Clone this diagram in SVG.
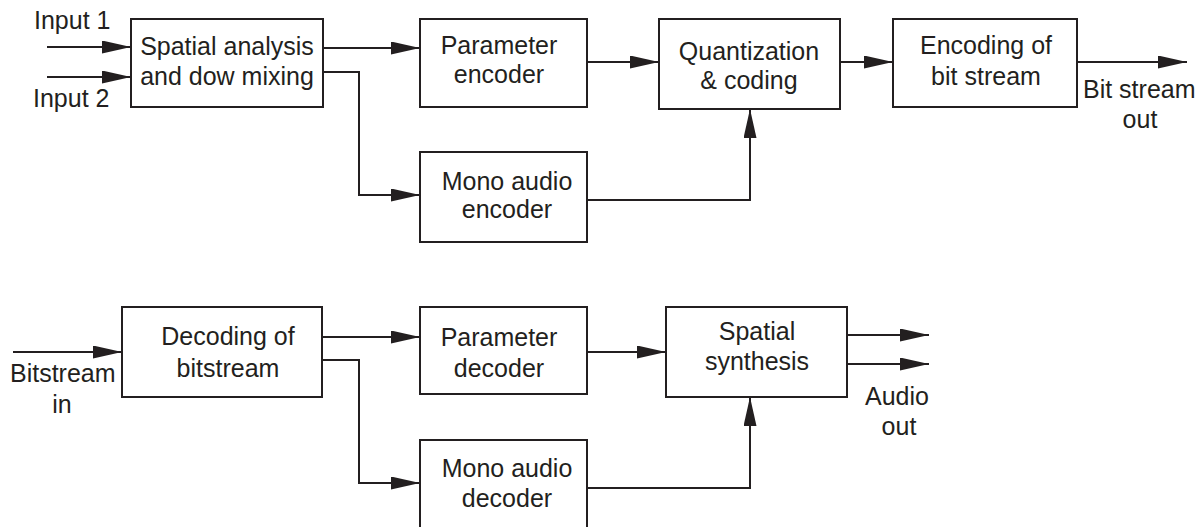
<svg xmlns="http://www.w3.org/2000/svg" width="1199" height="527" viewBox="0 0 1199 527">
<style>
.box{fill:#fff;stroke:#231f20;stroke-width:2}
.ln{fill:none;stroke:#231f20;stroke-width:2;marker-end:url(#ah)}
text{font-family:"Liberation Sans",Arial,sans-serif;font-size:25px;fill:#231f20}
.c{text-anchor:middle}
</style>
<defs>
<marker id="ah" markerUnits="userSpaceOnUse" markerWidth="30" markerHeight="14" refX="29" refY="6.5" orient="auto">
<path d="M0,0 L29,6.5 L0,13 z" fill="#231f20"/>
</marker>
</defs>
<rect width="1199" height="527" fill="#fff"/>
<g id="connectors">
<path class="ln" d="M47,47 H131"/>
<path class="ln" d="M47,77 H131"/>
<path class="ln" d="M323,48 H420"/>
<path class="ln" d="M323,72 H359 V195 H420"/>
<path class="ln" d="M587,62 H659"/>
<path class="ln" d="M840,62 H893"/>
<path class="ln" d="M1077,62 H1187"/>
<path class="ln" d="M587,200 H750 V109"/>
<path class="ln" d="M13,352 H122"/>
<path class="ln" d="M322,337 H420"/>
<path class="ln" d="M322,360 H359 V483 H420"/>
<path class="ln" d="M587,352 H666"/>
<path class="ln" d="M847,335 H929"/>
<path class="ln" d="M847,364 H929"/>
<path class="ln" d="M587,488 H750 V397"/>
</g>
<g id="labels">
<text x="34" y="29">Input 1</text>
<text x="33" y="107">Input 2</text>
<text x="1083" y="98">Bit stream</text>
<text class="c" x="1140" y="128">out</text>
<text x="10" y="382">Bitstream</text>
<text class="c" x="62" y="413">in</text>
<text class="c" x="897" y="405">Audio</text>
<text class="c" x="899" y="435">out</text>
</g>
<g id="spatial-analysis">
<rect class="box" x="131" y="19" width="192" height="88"/>
<text class="c" x="227" y="55">Spatial analysis</text>
<text class="c" x="227" y="85">and dow mixing</text>
</g>
<g id="parameter-encoder">
<rect class="box" x="420" y="19" width="167" height="88"/>
<text class="c" x="499" y="54">Parameter</text>
<text class="c" x="499" y="83">encoder</text>
</g>
<g id="quantization">
<rect class="box" x="659" y="19" width="181" height="90"/>
<text class="c" x="749" y="60">Quantization</text>
<text class="c" x="749" y="89">&amp; coding</text>
</g>
<g id="encoding">
<rect class="box" x="893" y="19" width="184" height="88"/>
<text class="c" x="986" y="54">Encoding of</text>
<text class="c" x="986" y="85">bit stream</text>
</g>
<g id="mono-encoder">
<rect class="box" x="420" y="152" width="167" height="90"/>
<text class="c" x="507" y="190">Mono audio</text>
<text class="c" x="507" y="218">encoder</text>
</g>
<g id="decoding">
<rect class="box" x="122" y="307" width="200" height="90"/>
<text class="c" x="228" y="345">Decoding of</text>
<text class="c" x="228" y="377">bitstream</text>
</g>
<g id="parameter-decoder">
<rect class="box" x="420" y="307" width="167" height="87"/>
<text class="c" x="499" y="346">Parameter</text>
<text class="c" x="499" y="377">decoder</text>
</g>
<g id="spatial-synthesis">
<rect class="box" x="666" y="307" width="181" height="90"/>
<text class="c" x="757" y="340">Spatial</text>
<text class="c" x="757" y="370">synthesis</text>
</g>
<g id="mono-decoder">
<rect class="box" x="420" y="440" width="167" height="100"/>
<text class="c" x="507" y="477">Mono audio</text>
<text class="c" x="507" y="507">decoder</text>
</g>
</svg>
